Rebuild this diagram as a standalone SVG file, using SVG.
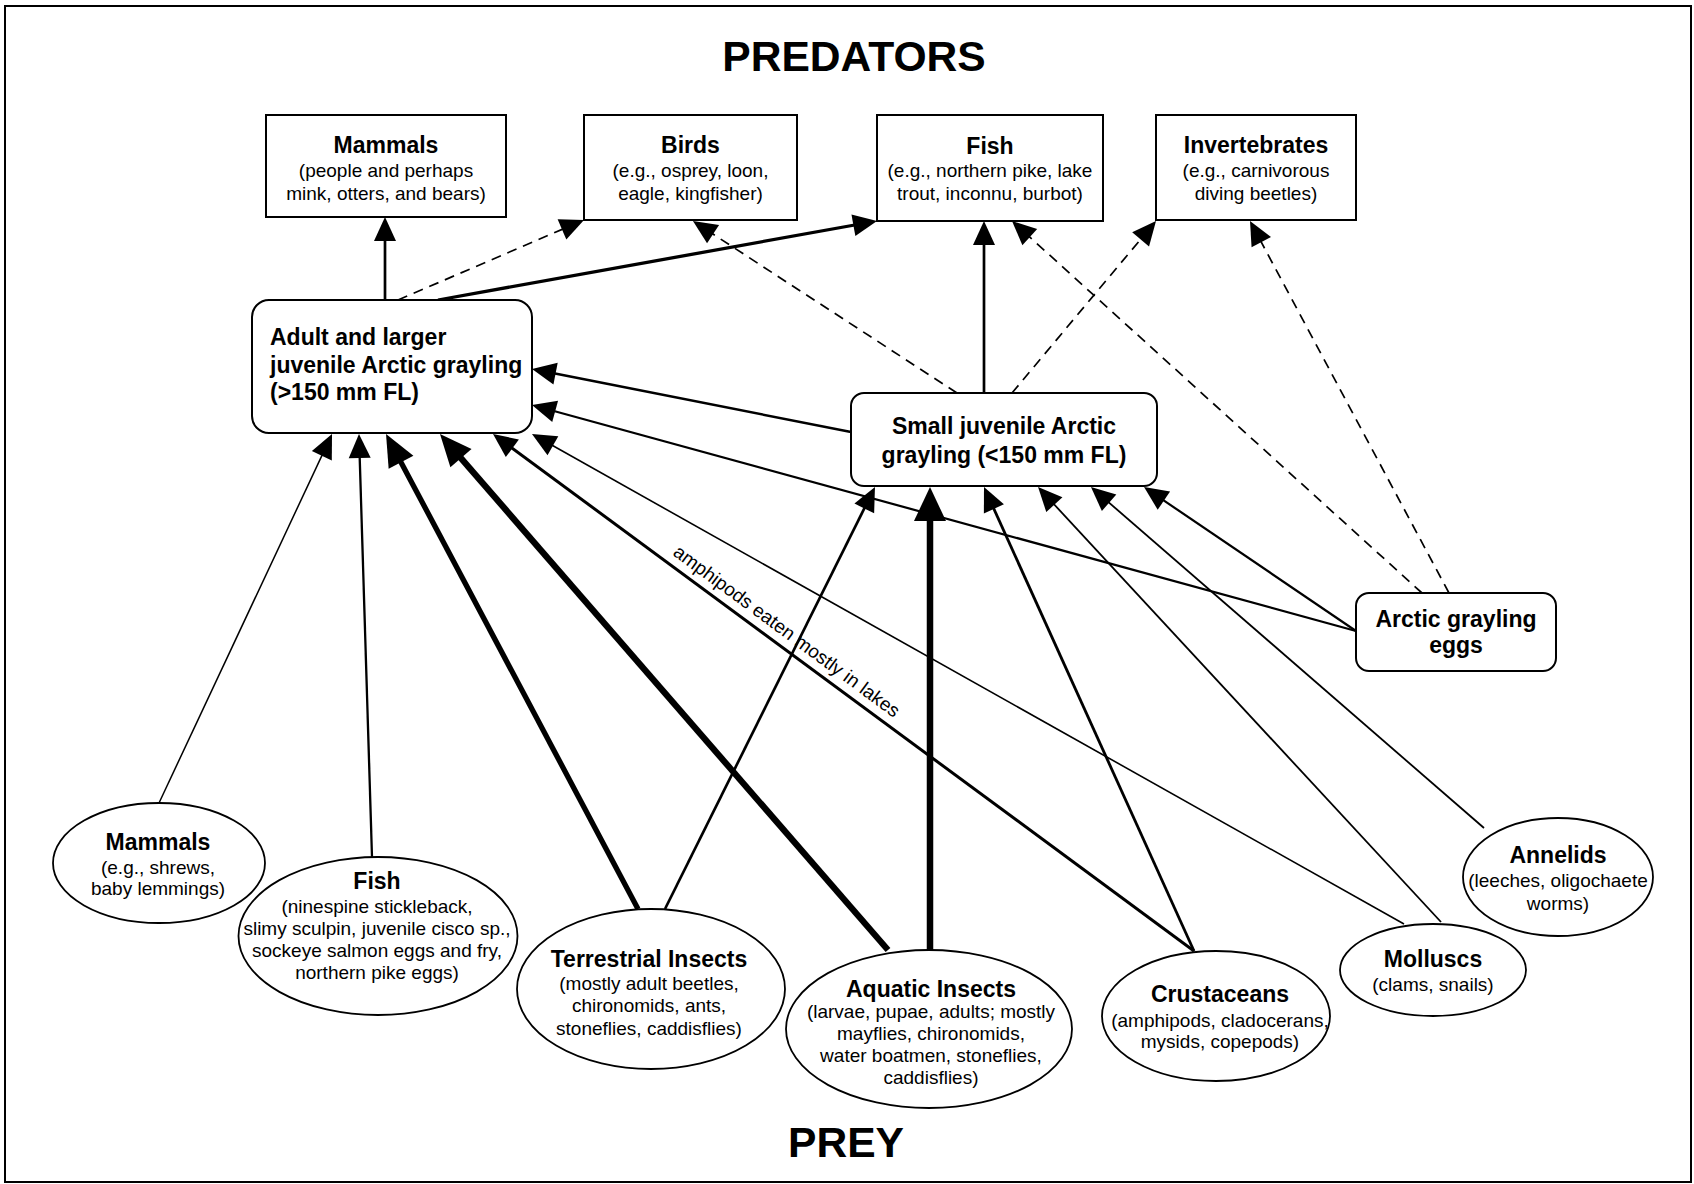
<svg xmlns="http://www.w3.org/2000/svg" width="1694" height="1184" viewBox="0 0 1694 1184">
<style>
text{font-family:"Liberation Sans",Arial,Helvetica,sans-serif;fill:#000}
.h{font-weight:bold;font-size:42.6px;text-anchor:middle}
.t{font-weight:bold;font-size:23px;text-anchor:middle}
.tl{font-weight:bold;font-size:23px;text-anchor:start}
.s{font-size:19px;text-anchor:middle}
.lab{font-size:19px}
.box{fill:#fff;stroke:#000;stroke-width:2}
.ell{fill:#fff;stroke:#000;stroke-width:1.8}
.c{stroke:#000;fill:none}
.d{stroke-dasharray:10 7;stroke-width:1.7}
</style>
<defs>
<marker id="a" markerUnits="userSpaceOnUse" markerWidth="24" markerHeight="22" refX="7" refY="11" orient="auto" overflow="visible"><path d="M0,0 L24,11 L0,22 z" fill="#000"/></marker>
<marker id="aL" markerUnits="userSpaceOnUse" markerWidth="32" markerHeight="28" refX="12" refY="14" orient="auto" overflow="visible"><path d="M0,0 L32,14 L0,28 z" fill="#000"/></marker>
<marker id="aXL" markerUnits="userSpaceOnUse" markerWidth="34" markerHeight="32" refX="10" refY="16" orient="auto" overflow="visible"><path d="M0,0 L34,16 L0,32 z" fill="#000"/></marker>
</defs>
<rect x="5" y="6" width="1686" height="1176" fill="#fff" stroke="#000" stroke-width="2"/>
<text class="h" x="854" y="71">PREDATORS</text>
<text class="h" x="846" y="1157">PREY</text>

<g id="connectors">
<line class="c" x1="385" y1="300" x2="385" y2="234" stroke-width="2.7" marker-end="url(#a)"/>
<line class="c d" x1="398" y1="300" x2="568.4" y2="226.7" marker-end="url(#a)"/>
<line class="c" x1="438" y1="300" x2="860.3" y2="224" stroke-width="3.3" marker-end="url(#a)"/>
<line class="c d" x1="957" y1="393" x2="707.2" y2="230.3" marker-end="url(#a)"/>
<line class="c" x1="984" y1="393" x2="984" y2="238" stroke-width="2.7" marker-end="url(#a)"/>
<line class="c d" x1="1012" y1="393" x2="1145.1" y2="234" marker-end="url(#a)"/>
<line class="c d" x1="1422" y1="593" x2="1024.6" y2="232.4" marker-end="url(#a)"/>
<line class="c d" x1="1449" y1="593" x2="1258" y2="236" marker-end="url(#a)"/>
<line class="c" x1="851" y1="432" x2="548.7" y2="372.3" stroke-width="2.5" marker-end="url(#a)"/>
<line class="c" x1="1356" y1="631" x2="548.4" y2="409.5" stroke-width="2.2" marker-end="url(#a)"/>
<line class="c" x1="159" y1="803" x2="324.8" y2="449.4" stroke-width="1.5" marker-end="url(#a)"/>
<line class="c" x1="372" y1="857" x2="359.5" y2="451" stroke-width="2.3" marker-end="url(#a)"/>
<line class="c" x1="638" y1="909" x2="395.4" y2="451.7" stroke-width="5.3" marker-end="url(#aL)"/>
<line class="c" x1="888" y1="950" x2="453.1" y2="449.1" stroke-width="6.3" marker-end="url(#aL)"/>
<line class="c" x1="1194" y1="951" x2="506.7" y2="444.1" stroke-width="3" marker-end="url(#a)"/>
<line class="c" x1="1404" y1="924" x2="546.8" y2="442.3" stroke-width="1.6" marker-end="url(#a)"/>
<line class="c" x1="665" y1="909" x2="867.4" y2="502.2" stroke-width="2.7" marker-end="url(#a)"/>
<line class="c" x1="930" y1="950" x2="930" y2="511" stroke-width="6.5" marker-end="url(#aXL)"/>
<line class="c" x1="1194" y1="951" x2="991" y2="502.5" stroke-width="2.8" marker-end="url(#a)"/>
<line class="c" x1="1441" y1="922" x2="1049.6" y2="499.5" stroke-width="1.8" marker-end="url(#a)"/>
<line class="c" x1="1484" y1="828" x2="1103.8" y2="498.1" stroke-width="1.8" marker-end="url(#a)"/>
<line class="c" x1="1356" y1="631" x2="1158.1" y2="496.6" stroke-width="2.2" marker-end="url(#a)"/>
<text class="lab" x="672" y="554.5" transform="rotate(36.4 672 554.5)">amphipods eaten mostly in lakes</text>
</g>

<g id="pred-mammals">
<rect class="box" x="266" y="115" width="240" height="102"/>
<text class="t" x="386" y="153">Mammals</text>
<text class="s" x="386" y="177">(people and perhaps</text>
<text class="s" x="386" y="200">mink, otters, and bears)</text>
</g>
<g id="pred-birds">
<rect class="box" x="584" y="115" width="213" height="105"/>
<text class="t" x="690.5" y="153">Birds</text>
<text class="s" x="690.5" y="177">(e.g., osprey, loon,</text>
<text class="s" x="690.5" y="200">eagle, kingfisher)</text>
</g>
<g id="pred-fish">
<rect class="box" x="877" y="115" width="226" height="106"/>
<text class="t" x="990" y="154">Fish</text>
<text class="s" x="990" y="177">(e.g., northern pike, lake</text>
<text class="s" x="990" y="200">trout, inconnu, burbot)</text>
</g>
<g id="pred-invertebrates">
<rect class="box" x="1156" y="115" width="200" height="105"/>
<text class="t" x="1256" y="153">Invertebrates</text>
<text class="s" x="1256" y="177">(e.g., carnivorous</text>
<text class="s" x="1256" y="200">diving beetles)</text>
</g>

<g id="adult-grayling">
<rect class="box" x="252" y="300" width="280" height="133" rx="17" ry="17"/>
<text class="tl" x="270" y="345">Adult and larger</text>
<text class="tl" x="270" y="372.5">juvenile Arctic grayling</text>
<text class="tl" x="270" y="400">(&gt;150 mm FL)</text>
</g>
<g id="small-juvenile-grayling">
<rect class="box" x="851" y="393" width="306" height="93" rx="13" ry="13"/>
<text class="t" x="1004" y="434">Small juvenile Arctic</text>
<text class="t" x="1004" y="463">grayling (&lt;150 mm FL)</text>
</g>
<g id="grayling-eggs">
<rect class="box" x="1356" y="593" width="200" height="78" rx="13" ry="13"/>
<text class="t" x="1456" y="627">Arctic grayling</text>
<text class="t" x="1456" y="653">eggs</text>
</g>

<g id="prey-mammals">
<ellipse class="ell" cx="159" cy="863" rx="106" ry="60"/>
<text class="t" x="158" y="850">Mammals</text>
<text class="s" x="158" y="874">(e.g., shrews,</text>
<text class="s" x="158" y="895">baby lemmings)</text>
</g>
<g id="prey-fish">
<ellipse class="ell" cx="378" cy="936" rx="139.5" ry="79"/>
<text class="t" x="377" y="889">Fish</text>
<text class="s" x="377" y="912.5">(ninespine stickleback,</text>
<text class="s" x="377" y="935">slimy sculpin, juvenile cisco sp.,</text>
<text class="s" x="377" y="957">sockeye salmon eggs and fry,</text>
<text class="s" x="377" y="979">northern pike eggs)</text>
</g>
<g id="prey-terrestrial-insects">
<ellipse class="ell" cx="651" cy="989" rx="134" ry="80"/>
<text class="t" x="649" y="967">Terrestrial Insects</text>
<text class="s" x="649" y="990">(mostly adult beetles,</text>
<text class="s" x="649" y="1012">chironomids, ants,</text>
<text class="s" x="649" y="1035">stoneflies, caddisflies)</text>
</g>
<g id="prey-aquatic-insects">
<ellipse class="ell" cx="929" cy="1029" rx="143" ry="79"/>
<text class="t" x="931" y="997">Aquatic Insects</text>
<text class="s" x="931" y="1018">(larvae, pupae, adults; mostly</text>
<text class="s" x="931" y="1040">mayflies, chironomids,</text>
<text class="s" x="931" y="1062">water boatmen, stoneflies,</text>
<text class="s" x="931" y="1084">caddisflies)</text>
</g>
<g id="prey-crustaceans">
<ellipse class="ell" cx="1216" cy="1016" rx="114" ry="65"/>
<text class="t" x="1220" y="1002">Crustaceans</text>
<text class="s" x="1220" y="1027">(amphipods, cladocerans,</text>
<text class="s" x="1220" y="1048">mysids, copepods)</text>
</g>
<g id="prey-molluscs">
<ellipse class="ell" cx="1433" cy="970" rx="93" ry="46"/>
<text class="t" x="1433" y="967">Molluscs</text>
<text class="s" x="1433" y="991">(clams, snails)</text>
</g>
<g id="prey-annelids">
<ellipse class="ell" cx="1558" cy="877" rx="95" ry="59"/>
<text class="t" x="1558" y="863">Annelids</text>
<text class="s" x="1558" y="887">(leeches, oligochaete</text>
<text class="s" x="1558" y="910">worms)</text>
</g>
</svg>
